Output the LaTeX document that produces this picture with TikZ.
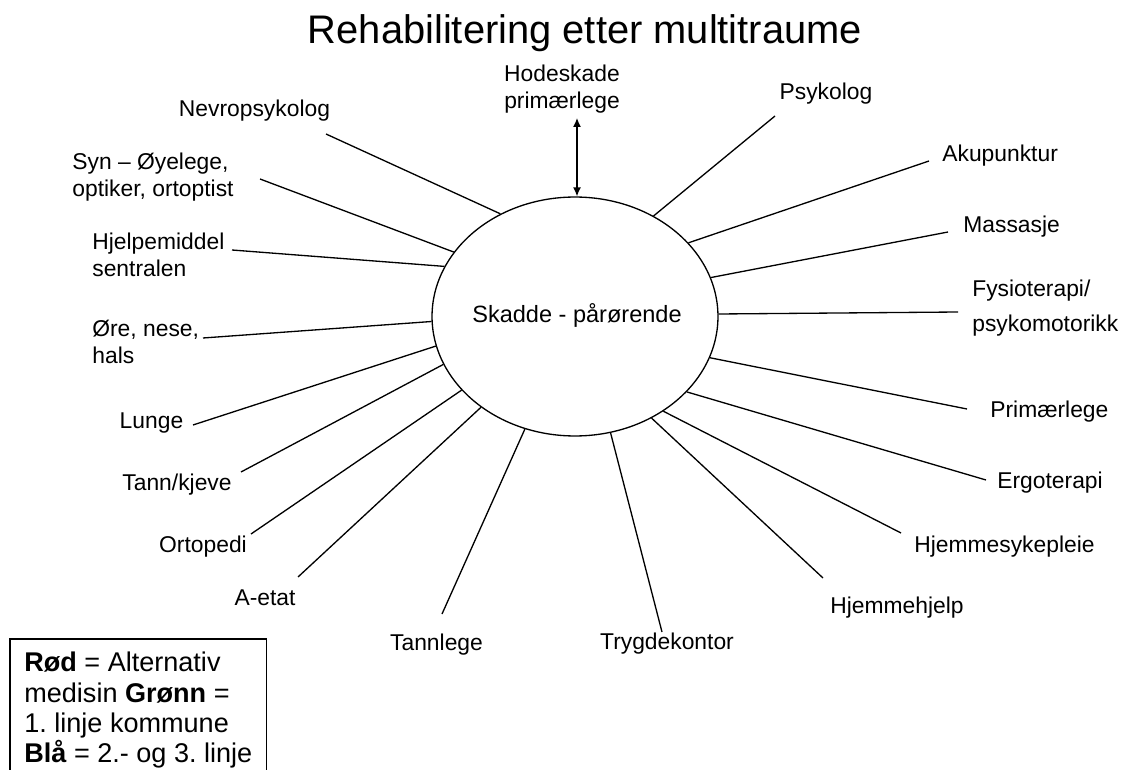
\documentclass[tikz,border=0pt]{standalone}
\usepackage{fontspec}
\setmainfont{Liberation Sans}
\frenchspacing
\usetikzlibrary{arrows.meta,shapes.geometric}
\tikzset{
  lbl/.style={font=\fontsize{13}{15.1}\selectfont, inner sep=0pt},
  lbl2/.style={lbl, align=left, anchor=west},
  hub/.style={
    draw,
    ellipse,
    line width=0.75pt,
    inner sep=0pt,
    minimum width=5.72cm,
    minimum height=4.78cm,
  },
  spoke/.style={line width=0.75pt},
  barr/.style={
    {Latex[length=1.8mm, width=1.6mm]}-{Latex[length=1.8mm, width=1.6mm]},
    line width=0.75pt,
  },
  key/.style={
    anchor=north west,
    align=left,
    inner xsep=0.28cm,
    inner ysep=0.26cm,
    font=\fontsize{15.4}{17.1}\selectfont,
  },
}

\begin{document}
\begin{tikzpicture}[x=0.02cm, y=-0.02cm]
  \useasboundingbox (0,0) rectangle (1123,770);

  \node[font=\fontsize{22.7}{27}\selectfont, anchor=base] (title) at (585,44) {Rehabilitering etter multitraume};

  \node[hub] (pas) at (575,316.5) {};
  \node[lbl, font=\fontsize{13.4}{16}\selectfont, anchor=base] (pastxt) at (577,323) {Skadde - pårørende};

  \node[lbl, align=center] (hode) at (562,89) {Hodeskade\\primærlege};
  \coordinate (hode-e) at (577,118);
  \draw[barr] (hode-e) -- (hode-e |- pas.north);

  \node[lbl, anchor=base] (nevro) at (254.5,117) {Nevropsykolog};
  \node[lbl2] (syn) at (72,177) {Syn – Øyelege,\\optiker, ortoptist};
  \node[lbl2] (hjelp) at (92,255) {Hjelpemiddel\\sentralen};
  \node[lbl2] (ore) at (92,342) {Øre, nese,\\hals};
  \node[lbl, anchor=base] (lunge) at (151.5,428) {Lunge};
  \node[lbl, anchor=base] (tann) at (177,490) {Tann/kjeve};
  \node[lbl, anchor=base] (orto) at (203,552) {Ortopedi};
  \node[lbl, anchor=base] (aetat) at (265,605) {A-etat};
  \node[lbl, anchor=base] (tlege) at (436.5,650) {Tannlege};
  \node[lbl, anchor=base] (trygd) at (667,649) {Trygdekontor};
  \node[lbl, anchor=base] (hjhj) at (897,613) {Hjemmehjelp};
  \node[lbl, anchor=base west] (hjsyk) at (914,552) {Hjemmesykepleie};
  \node[lbl, anchor=base west] (ergo) at (997,488) {Ergoterapi};
  \node[lbl, anchor=base west] (prim) at (990,418) {Primærlege};
  \node[lbl2] (fysio) at (972,308) {Fysioterapi/\\[4.8pt]psykomotorikk};
  \node[lbl, anchor=base west] (mass) at (963,233) {Massasje};
  \node[lbl, anchor=base west] (aku) at (942,162) {Akupunktur};
  \node[lbl, anchor=base] (psyk) at (826,100) {Psykolog};

  \coordinate (nevro-e) at (326,134);
  \coordinate (syn-e) at (260,179);
  \coordinate (hjelp-e) at (232,250);
  \coordinate (ore-e) at (203,338);
  \coordinate (lunge-e) at (193,425);
  \coordinate (tann-e) at (241,472);
  \coordinate (orto-e) at (251,534);
  \coordinate (aetat-e) at (298,577);
  \coordinate (tlege-e) at (442,614);
  \coordinate (trygd-e) at (662,632);
  \coordinate (hjhj-e) at (823,578);
  \coordinate (hjsyk-e) at (901,533);
  \coordinate (ergo-e) at (986,480);
  \coordinate (prim-e) at (967,409);
  \coordinate (fysio-e) at (958,312);
  \coordinate (mass-e) at (948,232);
  \coordinate (aku-e) at (929,161);
  \coordinate (psyk-e) at (775,116);

  \draw[spoke] (nevro-e) -- (pas.126.2);
  \draw[spoke] (syn-e) -- (pas.152);
  \draw[spoke] (hjelp-e) -- (pas.159.8);
  \draw[spoke] (ore-e) -- (pas.182.2);
  \draw[spoke] (lunge-e) -- (pas.192.4);
  \draw[spoke] (tann-e) -- (pas.200.5);
  \draw[spoke] (orto-e) -- (pas.213.3);
  \draw[spoke] (aetat-e) -- (pas.224.5);
  \draw[spoke] (tlege-e) -- (pas.246.9);
  \draw[spoke] (trygd-e) -- (pas.287.9);
  \draw[spoke] (hjhj-e) -- (pas.307.2);
  \draw[spoke] (hjsyk-e) -- (pas.313);
  \draw[spoke] (ergo-e) -- (pas.326.8);
  \draw[spoke] (prim-e) -- (pas.343.3);
  \draw[spoke] (fysio-e) -- (pas.1.8);
  \draw[spoke] (mass-e) -- (pas.16.5);
  \draw[spoke] (aku-e) -- (pas.33.3);
  \draw[spoke] (psyk-e) -- (pas.52.7);

  \node[key] (leg) at (10,639) {\textbf{Rød} = Alternativ\\medisin \textbf{Grønn} =\\1. linje kommune\\\textbf{Blå} = 2.- og 3. linje};
  \draw[spoke] (leg.south west) |- (leg.north east) -- (leg.south east);
\end{tikzpicture}
\end{document}
